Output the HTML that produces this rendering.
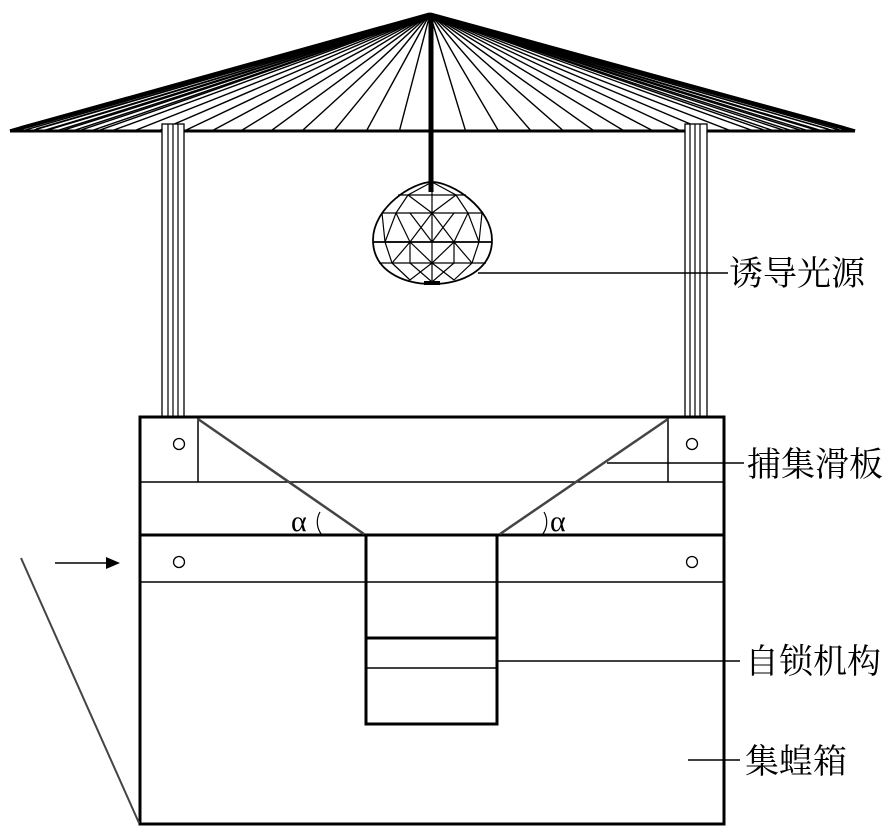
<!DOCTYPE html>
<html><head><meta charset="utf-8"><style>
html,body{margin:0;padding:0;background:#fff;}
svg{display:block;}
text{font-family:"Liberation Serif","Noto Serif CJK SC","Noto Sans CJK SC",serif;fill:#000;}
</style></head><body>
<svg width="894" height="837" viewBox="0 0 894 837" xmlns="http://www.w3.org/2000/svg">
<g stroke="#000" fill="none">
<g stroke-width="1.4">
<path d="M430,14 L10,131 M430,14 L11.3,131 M430,14 L15.2,131 M430,14 L21.7,131 M430,14 L30.7,131 M430,14 L42.2,131 M430,14 L56,131 M430,14 L72.3,131 M430,14 L90.7,131 M430,14 L111.2,131 M430,14 L133.7,131 M430,14 L158.1,131 M430,14 L184.2,131 M430,14 L211.7,131 M430,14 L240.7,131 M430,14 L270.8,131 M430,14 L301.9,131 M430,14 L333.9,131 M430,14 L366.4,131 M430,14 L399.4,131 M430,14 L432.5,131"/>
<path d="M430,14 L465.6,131 M430,14 L498.6,131 M430,14 L531.1,131 M430,14 L563.6,131 M430,14 L594.2,131 M430,14 L624.3,131 M430,14 L653.3,131 M430,14 L680.8,131 M430,14 L706.9,131 M430,14 L731.3,131 M430,14 L753.8,131 M430,14 L774.3,131 M430,14 L792.7,131 M430,14 L809,131 M430,14 L822.8,131 M430,14 L834.3,131 M430,14 L843.3,131 M430,14 L849.8,131 M430,14 L853.7,131 M430,14 L855,131"/>
<path d="M430,14 L20,127 M430,14 L26,128 M430,14 L36,129 M430,14 L48,130 M430,14 L64,130 M430,14 L81,130 M430,14 L100,130 M430,14 L845,127 M430,14 L838,128 M430,14 L828,129 M430,14 L816,130 M430,14 L800,130 M430,14 L783,130 M430,14 L764,130"/>
</g>
<line x1="10" y1="131" x2="855" y2="131" stroke-width="3"/>
<line x1="10" y1="131" x2="430" y2="14" stroke-width="3.5"/>
<line x1="855" y1="131" x2="430" y2="14" stroke-width="3.5"/>
<rect x="162" y="124" width="22" height="293" stroke-width="1.3" fill="#fff"/>
<line x1="168" y1="124" x2="168" y2="417" stroke-width="1.2"/>
<line x1="173" y1="124" x2="173" y2="417" stroke-width="1.2"/>
<line x1="178" y1="124" x2="178" y2="417" stroke-width="1.2"/>
<rect x="685" y="124" width="22" height="293" stroke-width="1.3" fill="#fff"/>
<line x1="690" y1="124" x2="690" y2="417" stroke-width="1.2"/>
<line x1="695" y1="124" x2="695" y2="417" stroke-width="1.2"/>
<line x1="700" y1="124" x2="700" y2="417" stroke-width="1.2"/>
<line x1="431" y1="14" x2="431" y2="192" stroke-width="5"/>
<g stroke-width="1.2">
<path d="M432,182 C452,182 492,208 492,240 C492,270 462,284 432,284 C402,284 373,270 373,240 C373,208 412,182 432,182 Z" stroke-width="1.8"/>
<line x1="374" y1="242" x2="491" y2="242" stroke-width="1.8"/>
<line x1="382" y1="213" x2="482" y2="213"/>
<line x1="398" y1="195" x2="466" y2="195"/>
<line x1="379" y1="263" x2="486" y2="263"/>
<line x1="432" y1="182" x2="432" y2="284"/>
<path d="M432,182 L408,195 L396,213 L385,242 L392,263 L410,280"/>
<path d="M432,182 L456,195 L468,213 L479,242 L472,263 L454,280"/>
<path d="M408,195 L432,213 L456,195 M396,213 L410,242 L432,213 L454,242 L468,213 M385,242 L410,242 L392,263 M410,242 L432,263 L454,242 L472,263 M410,242 L410,263 M454,242 L454,263 M392,263 L410,280 L432,263 L454,280 M410,263 L432,282 L454,263 M382,213 L385,242 M482,213 L479,242 M432,242 L410,213 M432,242 L454,213"/>
</g>
<rect x="424" y="281" width="16" height="4" fill="#000" stroke="none"/>
<rect x="140" y="417" width="584" height="407" stroke-width="3"/>
<line x1="140" y1="482" x2="724" y2="482" stroke-width="1.5"/>
<line x1="198" y1="417" x2="198" y2="482" stroke-width="1.5"/>
<line x1="668" y1="417" x2="668" y2="482" stroke-width="1.5"/>
<line x1="140" y1="535" x2="724" y2="535" stroke-width="3"/>
<line x1="140" y1="582" x2="724" y2="582" stroke-width="1.5"/>
<line x1="198" y1="419" x2="364" y2="534" stroke-width="2.5" stroke="#444"/>
<line x1="668" y1="419" x2="500" y2="534" stroke-width="2.5" stroke="#444"/>
<circle cx="179" cy="444" r="5.5" stroke-width="1.3"/>
<circle cx="692" cy="444" r="5.5" stroke-width="1.3"/>
<circle cx="179" cy="562" r="5.5" stroke-width="1.3"/>
<circle cx="692" cy="562" r="5.5" stroke-width="1.3"/>
<path d="M322,535 A20,20 0 0 1 320,512" stroke-width="1.2"/>
<path d="M542,535 A20,20 0 0 0 544,512" stroke-width="1.2"/>
<rect x="366" y="535" width="131" height="189" fill="#fff" stroke-width="3"/>
<line x1="366" y1="582" x2="497" y2="582" stroke-width="1.5"/>
<line x1="366" y1="638" x2="497" y2="638" stroke-width="3"/>
<line x1="366" y1="668" x2="497" y2="668" stroke-width="1.5"/>
<line x1="55" y1="563" x2="108" y2="563" stroke-width="1.5"/>
<polygon points="120,563 106,557 106,569" fill="#000" stroke="none"/>
<line x1="21" y1="558" x2="139" y2="823" stroke-width="2" stroke="#444"/>
<line x1="478" y1="273" x2="728" y2="273" stroke-width="1.5"/>
<line x1="607" y1="463" x2="744" y2="463" stroke-width="1.5"/>
<line x1="497" y1="661" x2="740" y2="661" stroke-width="1.5"/>
<line x1="688" y1="760" x2="740" y2="760" stroke-width="1.5"/>
</g>
<text x="291" y="531" font-size="30">α</text>
<text x="550" y="531" font-size="30">α</text>
<g font-size="34">
<text x="729" y="285">诱导光源</text>
<text x="747" y="476">捕集滑板</text>
<text x="745" y="673">自锁机构</text>
<text x="745" y="773">集蝗箱</text>
</g>
</svg>
</body></html>
